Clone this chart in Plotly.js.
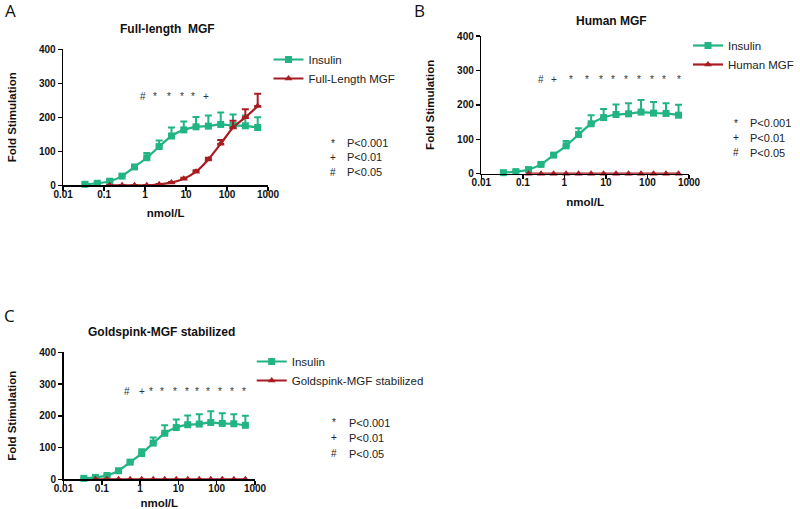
<!DOCTYPE html>
<html>
<head>
<meta charset="utf-8">
<script src="https://cdn.plot.ly/plotly-3.0.1.min.js"></script>
<style>html,body{margin:0;padding:0;background:#fff;}#chart{width:800px;height:509px;}</style>
</head>
<body>
<div id="chart"></div>
<script>
// ---------- data ----------
const doses = [0.034, 0.068, 0.137, 0.274, 0.55, 1.1, 2.2, 4.4, 8.8, 17.5, 35, 70, 140, 280, 560];
const insulinMean = [3, 6, 12, 27, 54, 81, 114, 145, 163, 172, 174, 179, 176, 175, 170];
const insulinErr  = [2, 3, 4, 4, 5, 14, 18, 25, 25, 29, 31, 35, 32, 30, 30];

const flMgfDoses = [0.137, 0.274, 0.55, 1.1, 2.2, 4.4, 8.8, 17.5, 35, 70, 140, 280, 560];
const flMgfMean  = [0, 0, 0, 0, 3, 8, 19, 40, 76, 122, 170, 200, 233];
const flMgfErr   = [1, 1, 1, 1, 1, 2, 3, 4, 5, 11, 20, 24, 36];

const humanMgfDoses = [0.137, 0.274, 0.55, 1.1, 2.2, 4.4, 8.8, 17.5, 35, 70, 140, 280, 560];
const humanMgfMean  = [0, 0, 0, 0, 0, 0, 0, 0, 0, 0, 0, 0, 0];

const goldMgfDoses = [0.068, 0.137, 0.274, 0.55, 1.1, 2.2, 4.4, 8.8, 17.5, 35, 70, 140, 280, 560];
const goldMgfMean  = [0, 0, 0, 0, 0, 0, 0, 0, 0, 0, 0, 0, 0, 0];

const sigA_x = [0.9, 1.73, 3.8, 7.8, 14.4, 30.4];
const sigA_t = ['#', '*', '*', '*', '*', '+'];
const sigB_x = [0.27, 0.57, 1.43, 3.47, 7.66, 15.2, 30.2, 64, 132, 252, 590];
const sigB_t = ['#', '+', '*', '*', '*', '*', '*', '*', '*', '*', '*'];
const sigC_x = [0.45, 1.1, 1.93, 3.8, 8.1, 17, 30, 60, 122, 255, 525];
const sigC_t = ['#', '+', '*', '*', '*', '*', '*', '*', '*', '*', '*'];

const xTickVals = [0.01, 0.1, 1, 10, 100, 1000];
const xTickText = ['0.01', '0.1', '1', '10', '100', '1000'];
const yTickVals = [0, 100, 200, 300, 400];

const keySymbols = ['*', '+', '#'];
const keyTexts = ['P<0.001', 'P<0.01', 'P<0.05'];

const panelLetters = ['A', 'B', 'C'];
const panelTitles = ['Full-length  MGF', 'Human MGF', 'Goldspink-MGF stabilized'];
const mgfNames = ['Full-Length MGF', 'Human MGF', 'Goldspink-MGF stabilized'];

// ---------- styles ----------
const GREEN = '#22b482';
const RED = '#a81c22';
const W = 800, H = 509;
const px = x => x / W;
const py = y => 1 - y / H;
const boldFont = 'Liberation Sans, Arial, sans-serif';
const suffix = i => (i === 0 ? '' : String(i + 1));

// error bars drawn by helper traces (kept out of the legend)
function errTrace(i, xs, ys, errs, color) {
  return {
    x: xs, y: ys, type: 'scatter', mode: 'markers', showlegend: false, hoverinfo: 'skip',
    xaxis: 'x' + suffix(i), yaxis: 'y' + suffix(i),
    marker: {size: 1, opacity: 0, color: color},
    error_y: {type: 'data', symmetric: false, array: errs, arrayminus: errs.map(() => 0),
              color: color, thickness: 2, width: 3.5},
    cliponaxis: false
  };
}
function lineTrace(i, xs, ys, name, color, symbol) {
  return {
    x: xs, y: ys, name: name, type: 'scatter', mode: 'lines+markers',
    xaxis: 'x' + suffix(i), yaxis: 'y' + suffix(i), legend: 'legend' + (i + 2),
    line: {color: color, width: 2.2, shape: 'spline', smoothing: 0.6},
    marker: {symbol: symbol, size: 7, color: color},
    cliponaxis: false
  };
}

const data = [
  errTrace(0, doses, insulinMean, insulinErr, GREEN),
  lineTrace(0, doses, insulinMean, 'Insulin', GREEN, 'square'),
  errTrace(0, flMgfDoses, flMgfMean, flMgfErr, RED),
  lineTrace(0, flMgfDoses, flMgfMean, mgfNames[0], RED, 'triangle-up'),
  errTrace(1, doses, insulinMean, insulinErr, GREEN),
  lineTrace(1, doses, insulinMean, 'Insulin', GREEN, 'square'),
  lineTrace(1, humanMgfDoses, humanMgfMean, mgfNames[1], RED, 'triangle-up'),
  errTrace(2, doses, insulinMean, insulinErr, GREEN),
  lineTrace(2, doses, insulinMean, 'Insulin', GREEN, 'square'),
  lineTrace(2, goldMgfDoses, goldMgfMean, mgfNames[2], RED, 'triangle-up')
];

function xAxis(dom, anchor) {
  return {
    type: 'log', range: [-2, 3], domain: dom, anchor: anchor,
    tickvals: xTickVals, ticktext: xTickText,
    showline: true, linecolor: '#000', linewidth: 1.5, ticks: 'outside', ticklen: 4, tickwidth: 1.5, tickcolor: '#000',
    ticklabelstandoff: -5,
    showgrid: false, zeroline: false,
    tickfont: {family: boldFont, size: 10, color: '#111', weight: 'bold'},
    title: {text: '<b>nmol/L</b>', font: {family: boldFont, size: 11.5, color: '#111'}, standoff: 10}
  };
}
function yAxis(dom, anchor) {
  return {
    range: [0, 400], domain: dom, anchor: anchor, tickvals: yTickVals,
    showline: true, linecolor: '#000', linewidth: 1.5, ticks: 'outside', ticklen: 4, tickwidth: 1.5, tickcolor: '#000',
    showgrid: false, zeroline: false,
    tickfont: {family: boldFont, size: 10, color: '#111', weight: 'bold'},
    title: {text: '<b>Fold Stimulation</b>', font: {family: boldFont, size: 11.5, color: '#111'}, standoff: 20}
  };
}

const annotations = [];
// significance markers
[[sigA_x, sigA_t, 'x', 'y', 262], [sigB_x, sigB_t, 'x2', 'y2', 275], [sigC_x, sigC_t, 'x3', 'y3', 277]].forEach(g => {
  g[0].forEach((v, k) => annotations.push({
    x: Math.log10(v), y: g[4], xref: g[2], yref: g[3], text: g[1][k], showarrow: false,
    font: {family: 'Liberation Sans, Arial, sans-serif', size: 10, color: '#333'}, xanchor: 'center', yanchor: 'middle'
  }));
});
// P-value keys
const keyPos = [
  {sx: 333, tx: 345, ys: [143.3, 157.3, 172.3]},
  {sx: 736, tx: 748, ys: [123.3, 137.7, 152.7]},
  {sx: 334, tx: 347, ys: [422.7, 437.7, 453.7]}
];
keyPos.forEach(p => {
  keySymbols.forEach((sym, k) => {
    annotations.push({x: px(p.sx), y: py(p.ys[k]), xref: 'paper', yref: 'paper', text: sym, showarrow: false,
      xanchor: 'center', yanchor: 'middle', font: {family: 'Liberation Sans, Arial, sans-serif', size: 10, color: '#222'}});
    annotations.push({x: px(p.tx), y: py(p.ys[k]), xref: 'paper', yref: 'paper', text: keyTexts[k], showarrow: false,
      xanchor: 'left', yanchor: 'middle', font: {family: 'Liberation Sans, Arial, sans-serif', size: 11, color: '#222'}});
  });
});
// panel titles and letters
const titlePos = [[167, 29], [611, 21], [161, 332]];
const letterPos = [[10, 11], [419, 11], [9, 315]];
panelTitles.forEach((t, i) => {
  annotations.push({x: px(titlePos[i][0]), y: py(titlePos[i][1]), xref: 'paper', yref: 'paper', text: '<b>' + t + '</b>',
    showarrow: false, xanchor: 'center', yanchor: 'middle', font: {family: boldFont, size: 12, color: '#111'}});
  annotations.push({x: px(letterPos[i][0]), y: py(letterPos[i][1]), xref: 'paper', yref: 'paper', text: panelLetters[i],
    showarrow: false, xanchor: 'center', yanchor: 'middle', font: {family: 'Open Sans, sans-serif', size: 17, color: '#111'}});
});

function legendAt(xp, yp) {
  return {x: px(xp), y: py(yp), xanchor: 'left', yanchor: 'top', bgcolor: 'rgba(0,0,0,0)',
    orientation: 'v', traceorder: 'normal', borderwidth: 0,
    font: {family: 'Liberation Sans, Arial, sans-serif', size: 11.5, color: '#222'}, tracegroupgap: 0};
}

const layout = {
  width: W, height: H, margin: {l: 0, r: 0, t: 0, b: 0},
  paper_bgcolor: '#fff', plot_bgcolor: '#fff', showlegend: true,
  xaxis: xAxis([px(63.2), px(268)], 'y'), yaxis: yAxis([py(185.3), py(49.3)], 'x'),
  xaxis2: xAxis([px(481.3), px(689)], 'y2'), yaxis2: yAxis([py(173.7), py(36)], 'x2'),
  xaxis3: xAxis([px(63.5), px(255)], 'y3'), yaxis3: yAxis([py(479.3), py(352.3)], 'x3'),
  legend2: legendAt(268.5, 45), legend3: legendAt(688, 31), legend4: legendAt(251.7, 347),
  annotations: annotations
};

Plotly.newPlot('chart', data, layout, {displayModeBar: false, staticPlot: true});
</script>
</body>
</html>
